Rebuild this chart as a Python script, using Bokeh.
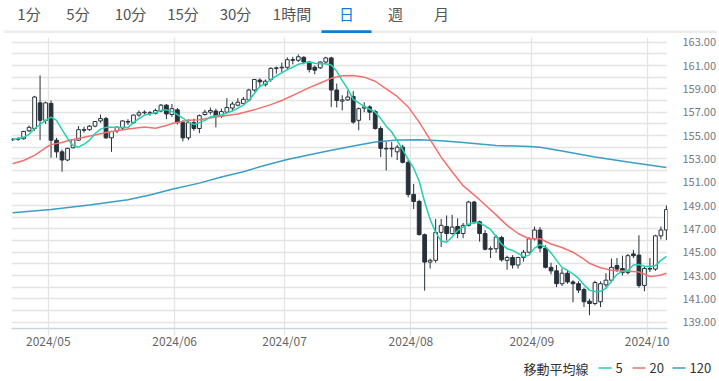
import pandas as pd
from bokeh.plotting import figure
from bokeh.models import ColumnDataSource, FixedTicker, Range1d, NumeralTickFormatter
from bokeh.core.properties import value
from bokeh.embed import file_html
from bokeh.resources import INLINE

# ---------------- data ----------------
dates = pd.bdate_range("2024-04-22", "2024-10-04")  # 120 trading days (categories)

opens = [154.62,154.68,154.72,155.40,155.60,157.80,156.30,157.75,154.60,153.60,
         152.90,153.95,154.60,155.50,155.50,155.80,156.25,156.45,154.80,155.40,
         155.65,156.20,156.10,156.75,156.95,156.95,156.90,157.10,157.60,156.80,
         157.20,156.10,154.80,156.10,155.60,156.80,157.00,157.10,156.65,157.00,
         157.35,157.60,157.75,158.05,158.90,159.75,159.35,159.80,160.75,160.80,
         160.85,161.50,161.45,161.70,161.30,160.85,160.80,161.30,161.65,158.90,
         157.95,158.05,158.35,156.30,157.35,157.45,157.05,155.60,153.85,153.90,
         153.60,154.00,152.70,149.95,149.35,146.50,144.15,144.30,146.70,147.20,
         146.60,147.20,146.60,147.30,149.30,147.60,146.60,145.25,145.30,146.25,
         144.30,144.55,143.90,144.55,145.00,146.15,146.90,145.35,143.70,143.40,
         142.30,143.20,142.45,142.30,141.80,140.80,140.60,140.75,142.20,142.60,
         143.85,143.60,143.25,144.85,144.75,142.15,143.60,143.55,146.40,146.90]
highs = [154.78,154.85,155.40,155.85,158.40,160.15,157.90,158.00,154.80,153.80,
         153.95,154.70,155.80,155.75,155.90,156.25,156.80,156.60,155.40,155.80,
         156.30,156.40,156.80,157.15,157.15,157.10,157.30,157.70,157.70,157.70,
         157.35,156.30,156.40,156.45,156.80,157.20,157.40,157.30,157.30,158.20,
         157.90,158.20,158.30,159.00,159.85,159.90,159.80,160.85,160.90,161.25,
         161.70,161.75,161.95,161.80,161.40,161.00,161.35,161.75,161.75,159.45,
         158.45,158.85,158.80,157.40,157.85,157.60,157.20,155.80,154.45,154.45,
         154.20,154.20,152.90,150.85,149.50,146.60,144.45,147.85,147.85,148.15,
         148.20,147.90,147.50,149.40,149.40,147.70,146.90,145.50,146.50,146.40,
         144.70,144.75,144.60,145.20,146.30,147.20,147.15,145.60,144.10,143.90,
         143.60,143.45,142.60,142.50,141.95,141.00,142.55,142.50,143.20,144.45,
         144.50,144.70,144.85,145.20,146.45,143.75,144.50,146.50,147.20,149.00]
lows = [154.55,154.55,154.65,155.30,155.40,154.60,156.00,153.10,153.10,151.90,
        152.80,153.90,154.55,155.25,155.40,155.70,156.10,154.70,153.60,155.20,
        155.50,155.90,156.00,156.60,156.80,156.70,156.80,157.00,156.40,156.60,
        155.95,154.50,154.60,155.40,155.20,156.70,156.80,155.70,156.50,156.90,
        157.10,157.50,157.65,157.90,158.75,159.20,159.20,159.60,160.30,160.40,
        160.60,161.10,161.30,161.10,160.40,160.25,160.70,161.10,157.45,157.40,
        157.15,157.95,156.00,155.45,157.00,156.30,155.50,153.15,152.00,153.15,
        152.90,152.60,149.70,148.70,146.45,141.70,143.60,144.10,145.45,146.00,
        146.50,146.20,146.20,147.20,147.40,145.90,145.15,144.50,144.95,144.20,
        143.50,143.60,143.60,144.20,144.90,146.00,145.00,143.60,143.10,142.00,
        142.10,142.30,140.70,141.50,140.30,139.60,140.45,140.30,142.00,142.40,
        143.30,143.00,143.10,144.50,141.95,141.65,143.30,143.40,146.10,146.05]
closes = [154.68,154.72,155.35,155.70,158.30,156.30,157.80,154.60,153.60,152.90,
          153.90,154.65,155.50,155.45,155.80,156.20,156.45,154.80,155.35,155.70,
          156.25,156.15,156.75,156.95,157.00,156.90,157.15,157.60,156.85,157.30,
          156.10,154.80,156.10,155.60,156.70,157.00,157.15,156.65,157.05,157.40,
          157.70,157.85,158.10,158.90,159.80,159.60,159.65,160.75,160.80,160.85,
          161.50,161.45,161.75,161.30,160.65,160.60,161.30,161.65,158.90,158.00,
          158.05,158.30,156.15,157.30,157.45,157.00,155.60,153.90,153.90,153.85,
          154.00,152.70,149.95,149.35,146.50,144.15,144.30,146.70,147.30,146.60,
          147.15,146.60,147.30,149.30,147.60,146.60,145.25,145.30,146.30,144.35,
          144.55,143.90,144.55,145.00,146.15,146.90,145.35,143.70,143.40,142.30,
          143.20,142.45,142.30,141.75,140.75,140.60,142.40,142.30,142.60,143.70,
          143.55,143.25,144.70,144.70,142.15,143.60,143.55,146.40,146.90,148.65]

# moving averages (candle index -> value)
ma5_idx = [0,2,3,4,5,6,7,8,9,10,11,12,13,14,15,16,17,19,21,22,23,24,25,26,27,28,29,30,31,32,33,34,35,36,38,40,
           41,42,43,44,45,46,47,48,49,50,51,52,54,55,56,57,58,59,60,61,62,63,64,65,66,67,68,69,70,71,72,73,74,
           75,76,77,78,79,80,81,82,83,84,85,86,87,88,89,90,91,92,93,94,95,96,97,98,99,100,101,102,103,104,105,
           106,107,108,109,110,111,112,113,114,115,116,117,118,119]
ma5 = [154.66,154.85,155.10,155.60,155.95,156.30,156.57,156.30,155.50,154.75,154.15,154.00,154.25,154.60,
       155.15,155.55,155.70,155.70,155.68,156.10,156.45,156.75,156.85,156.95,157.15,157.20,157.05,156.80,
       156.50,156.15,155.95,156.10,156.30,156.60,156.75,157.10,157.35,157.60,158.00,158.60,159.20,159.45,
       159.80,160.10,160.37,160.65,160.85,161.10,161.30,161.20,161.15,161.15,161.05,160.50,159.70,159.00,
       158.10,157.80,157.50,157.25,157.00,156.45,155.80,155.30,154.55,153.80,152.95,152.20,151.10,149.30,
       147.80,146.70,145.95,145.85,146.30,146.85,147.15,147.40,147.55,147.50,147.25,146.95,146.35,145.70,
       145.30,145.15,144.90,144.60,144.75,145.35,145.65,145.45,144.95,144.30,143.70,143.45,143.15,142.75,
       142.20,141.75,141.64,141.64,141.90,142.50,143.10,143.35,143.44,143.90,143.95,143.80,143.78,143.85,
       144.30,144.65]
ma20_idx = [0,2,4,6,7,9,10,13,15,17,21,24,26,28,29,32,34,37,41,44,47,49,52,54,56,58,60,62,64,66,68,70,72,74,
            76,78,80,82,85,88,90,92,94,96,98,100,102,104,105,107,109,111,113,114,116,117,118,119]
ma20 = [152.58,152.86,153.30,153.95,154.22,154.40,154.55,154.85,155.05,155.25,155.55,155.72,155.62,155.86,
        156.02,156.30,156.35,156.58,156.85,157.20,157.65,158.00,158.65,159.10,159.50,159.90,160.12,160.15,
        160.00,159.65,159.00,158.35,157.45,156.15,154.65,153.15,151.90,150.70,149.50,148.20,147.30,146.60,
        146.15,146.15,145.70,145.40,145.00,144.40,144.05,143.67,143.45,143.38,143.35,143.30,142.92,142.95,
        143.05,143.20]
ma120_idx = [0,7,14,21,25,29,34,38,42,46,50,56,62,66,70,74,78,82,88,94,96,100,106,112,119]
ma120 = [148.38,148.65,149.05,149.50,149.90,150.40,150.92,151.45,151.90,152.45,152.95,153.55,154.10,154.45,
         154.62,154.64,154.55,154.40,154.15,154.05,154.00,153.68,153.15,152.72,152.25]

y_ticks = [139, 141, 143, 145, 147, 149, 151, 153, 155, 157, 159, 161, 163]
grid_levels = list(range(139, 164))
tabs = ["1分", "5分", "10分", "15分", "30分", "1時間", "日", "週", "月"]
selected_tab = "日"
legend_title = "移動平均線"
ma_names = ["5", "20", "120"]

# ---------------- styles / layout (pixels) ----------------
FONT = "Noto Sans CJK JP"
DARK = "#27313b"
C5, C20, C120 = "#22d1ae", "#f2716d", "#3a9ec6"
GRID = "#e4e4e4"
BLUE = "#0b7fd4"
W = 719
TOP_H, MAIN_H, LEG_H = 33, 323, 25

# ---------------- tab bar ----------------
tab_x = [28.5, 77.5, 130, 182.5, 235, 291.5, 346, 395, 441]
pt = figure(width=W, height=TOP_H, output_backend="svg", toolbar_location=None,
            x_range=Range1d(0, W), y_range=Range1d(TOP_H, 0),
            x_axis_type=None, y_axis_type=None, min_border=0)
pt.outline_line_color = None
pt.grid.visible = False
pt.quad(left=[4], right=[716], top=[30], bottom=[32.7], fill_color="#ececec", line_color=None)
sel = tab_x[tabs.index(selected_tab)]
pt.quad(left=[sel - 25], right=[sel + 25], top=[29.8], bottom=[33], fill_color=BLUE, line_color=None)
pt.text(x=tab_x, y=[13] * len(tabs), text=tabs, text_font=value(FONT), text_font_size=value("15px"),
        text_align="center", text_baseline="middle",
        text_color=[BLUE if t == selected_tab else "#555555" for t in tabs])

# ---------------- main chart ----------------
idx = list(range(len(dates)))
top = [max(o, c) for o, c in zip(opens, closes)]
bot = [min(o, c) for o, c in zip(opens, closes)]
fill = ["white" if c >= o else DARK for o, c in zip(opens, closes)]
src = ColumnDataSource(dict(x=idx, o=opens, h=highs, l=lows, c=closes, top=top, bot=bot, fill=fill))

month_ticks, month_labels = [], {}
for i in range(1, len(dates)):
    if dates[i].month != dates[i - 1].month:
        t = i - 0.5
        month_ticks.append(t)
        month_labels[t] = dates[i].strftime("%Y/%m")

p = figure(width=W, height=MAIN_H, output_backend="svg", toolbar_location=None,
           x_range=Range1d(-0.2, 119.2), y_range=Range1d(138.46, 163.4),
           y_axis_location="right", min_border_left=11, min_border_right=48,
           min_border_top=4, min_border_bottom=28)
p.outline_line_color = None
p.background_fill_color = "white"

p.xgrid.ticker = FixedTicker(ticks=month_ticks)
p.ygrid.ticker = FixedTicker(ticks=grid_levels)
for g in (p.xgrid, p.ygrid):
    g.grid_line_color = GRID
    g.grid_line_width = 1.3

p.xaxis.ticker = FixedTicker(ticks=month_ticks)
p.xaxis.major_label_overrides = month_labels
p.xaxis.axis_line_color = "#c8d4e2"
p.xaxis.axis_line_width = 1.3
p.xaxis.major_tick_line_color = GRID
p.xaxis.major_tick_line_width = 1.3
p.xaxis.major_tick_out = 7
p.xaxis.major_tick_in = 0
p.xaxis.minor_tick_line_color = None
p.xaxis.major_label_standoff = -4
p.xaxis.major_label_text_font = FONT
p.xaxis.major_label_text_font_size = "12px"
p.xaxis.major_label_text_color = "#666666"

p.yaxis.ticker = FixedTicker(ticks=y_ticks)
p.yaxis.formatter = NumeralTickFormatter(format="0.00")
p.yaxis.axis_line_color = None
p.yaxis.major_tick_line_color = None
p.yaxis.minor_tick_line_color = None
p.yaxis.major_label_standoff = 9
p.yaxis.major_label_text_font = FONT
p.yaxis.major_label_text_font_size = "11px"
p.yaxis.major_label_text_color = "#737a85"

p.segment(x0="x", y0="l", x1="x", y1="h", source=src, line_color=DARK, line_width=1)
p.vbar(x="x", width=0.68, top="top", bottom="bot", source=src,
       fill_color="fill", line_color=DARK, line_width=1)

p.line(ma120_idx, ma120, line_color=C120, line_width=1.5)
p.line(ma20_idx, ma20, line_color=C20, line_width=1.5)
p.line(ma5_idx, ma5, line_color=C5, line_width=1.5)

# ---------------- legend ----------------
Y0 = TOP_H + MAIN_H
pl = figure(width=W, height=LEG_H, output_backend="svg", toolbar_location=None,
            x_range=Range1d(0, W), y_range=Range1d(Y0 + LEG_H, Y0),
            x_axis_type=None, y_axis_type=None, min_border=0)
pl.outline_line_color = None
pl.grid.visible = False
ly = 367.5
pl.text(x=[523], y=[ly], text=[legend_title], text_font=value(FONT), text_font_size=value("13px"),
        text_baseline="middle", text_color="#333333")
dash_x0 = [598, 632, 672]
pl.segment(x0=dash_x0, y0=[ly] * 3, x1=[x + 13 for x in dash_x0], y1=[ly] * 3,
           line_color=[C5, C20, C120], line_width=1.3)
pl.text(x=[x + 17 for x in dash_x0], y=[ly] * 3, text=ma_names, text_font=value(FONT),
        text_font_size=value("13px"), text_baseline="middle", text_color="#333333")

open("out.html", "w").write(file_html([pt, p, pl], INLINE))
